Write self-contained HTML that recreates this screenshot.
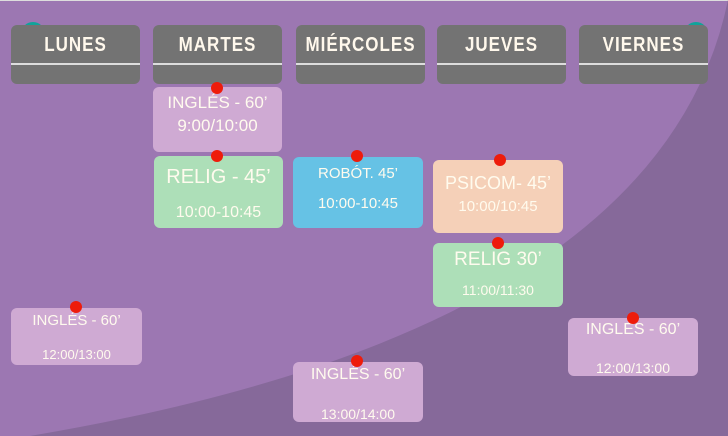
<!DOCTYPE html>
<html><head><meta charset="utf-8"><style>
body{margin:0;width:728px;height:436px;overflow:hidden;background:#9c77b2;position:relative;font-family:"Liberation Sans",sans-serif}
.a{position:absolute}
.h{position:absolute;top:25px;width:129px;height:59px;background:#737373;border-radius:6px;overflow:hidden}
.h span{position:absolute;top:10px;left:0;right:0;text-align:center;color:#fff8ec;font-weight:bold;font-size:17px;letter-spacing:1px;font-family:"Liberation Sans Narrow","Liberation Sans",sans-serif;transform:scaleY(1.2)}
.h i{position:absolute;left:0;right:0;top:38px;height:2px;background:#ddd}
.c{position:absolute;border-radius:6px;color:#fffbee;text-align:center}
.c div{position:absolute;left:0;right:0;white-space:nowrap}
.d{position:absolute;width:12px;height:12px;border-radius:50%;background:#ee1c0b}
</style></head><body>
<div class="a" style="left:0;top:0;width:728px;height:1px;background:#ddd"></div>
<svg class="a" style="left:0;top:0" width="728" height="436"><path d="M728,0 Q660,330 30,436 L728,436 Z" fill="#86699a"/>
<circle cx="33" cy="34" r="12" fill="#10a39a"/><circle cx="696" cy="34" r="12" fill="#10a39a"/></svg>
<div class="h" style="left:11px"><span>LUNES</span><i></i></div>
<div class="h" style="left:153px"><span>MARTES</span><i></i></div>
<div class="h" style="left:296px"><span>MIÉRCOLES</span><i></i></div>
<div class="h" style="left:437px"><span>JUEVES</span><i></i></div>
<div class="h" style="left:579px"><span>VIERNES</span><i></i></div>

<div class="c" style="left:153px;top:87px;width:129px;height:65px;background:#cfaad3;font-size:17px"><div style="top:6px">INGLÉS - 60’</div><div style="top:29px">9:00/10:00</div></div>
<div class="c" style="left:154px;top:156px;width:129px;height:72px;background:#addfb8"><div style="top:10px;font-size:20px">RELIG - 45’</div><div style="top:48px;font-size:16px">10:00-10:45</div></div>
<div class="c" style="left:293px;top:157px;width:130px;height:71px;background:#66c2e5;font-size:15px"><div style="top:8px">ROBÓT. 45’</div><div style="top:38px">10:00-10:45</div></div>
<div class="c" style="left:433px;top:160px;width:130px;height:73px;background:#f5d0b8"><div style="top:13px;font-size:18px">PSICOM- 45’</div><div style="top:38px;font-size:15px">10:00/10:45</div></div>
<div class="c" style="left:433px;top:243px;width:130px;height:64px;background:#addfb8"><div style="top:6px;font-size:19px">RELIG 30’</div><div style="top:39px;font-size:14px">11:00/11:30</div></div>
<div class="c" style="left:11px;top:308px;width:131px;height:57px;background:#cfaad3"><div style="top:4px;font-size:15px">INGLÉS - 60’</div><div style="top:39px;font-size:13px">12:00/13:00</div></div>
<div class="c" style="left:293px;top:362px;width:130px;height:60px;background:#cfaad3"><div style="top:4px;font-size:16px">INGLÉS - 60’</div><div style="top:44px;font-size:14px">13:00/14:00</div></div>
<div class="c" style="left:568px;top:318px;width:130px;height:58px;background:#cfaad3"><div style="top:3px;font-size:16px">INGLÉS - 60’</div><div style="top:42px;font-size:14px">12:00/13:00</div></div>

<div class="d" style="left:211px;top:82px"></div>
<div class="d" style="left:211px;top:150px"></div>
<div class="d" style="left:351px;top:150px"></div>
<div class="d" style="left:494px;top:154px"></div>
<div class="d" style="left:492px;top:237px"></div>
<div class="d" style="left:70px;top:301px"></div>
<div class="d" style="left:351px;top:355px"></div>
<div class="d" style="left:627px;top:312px"></div>
</body></html>
